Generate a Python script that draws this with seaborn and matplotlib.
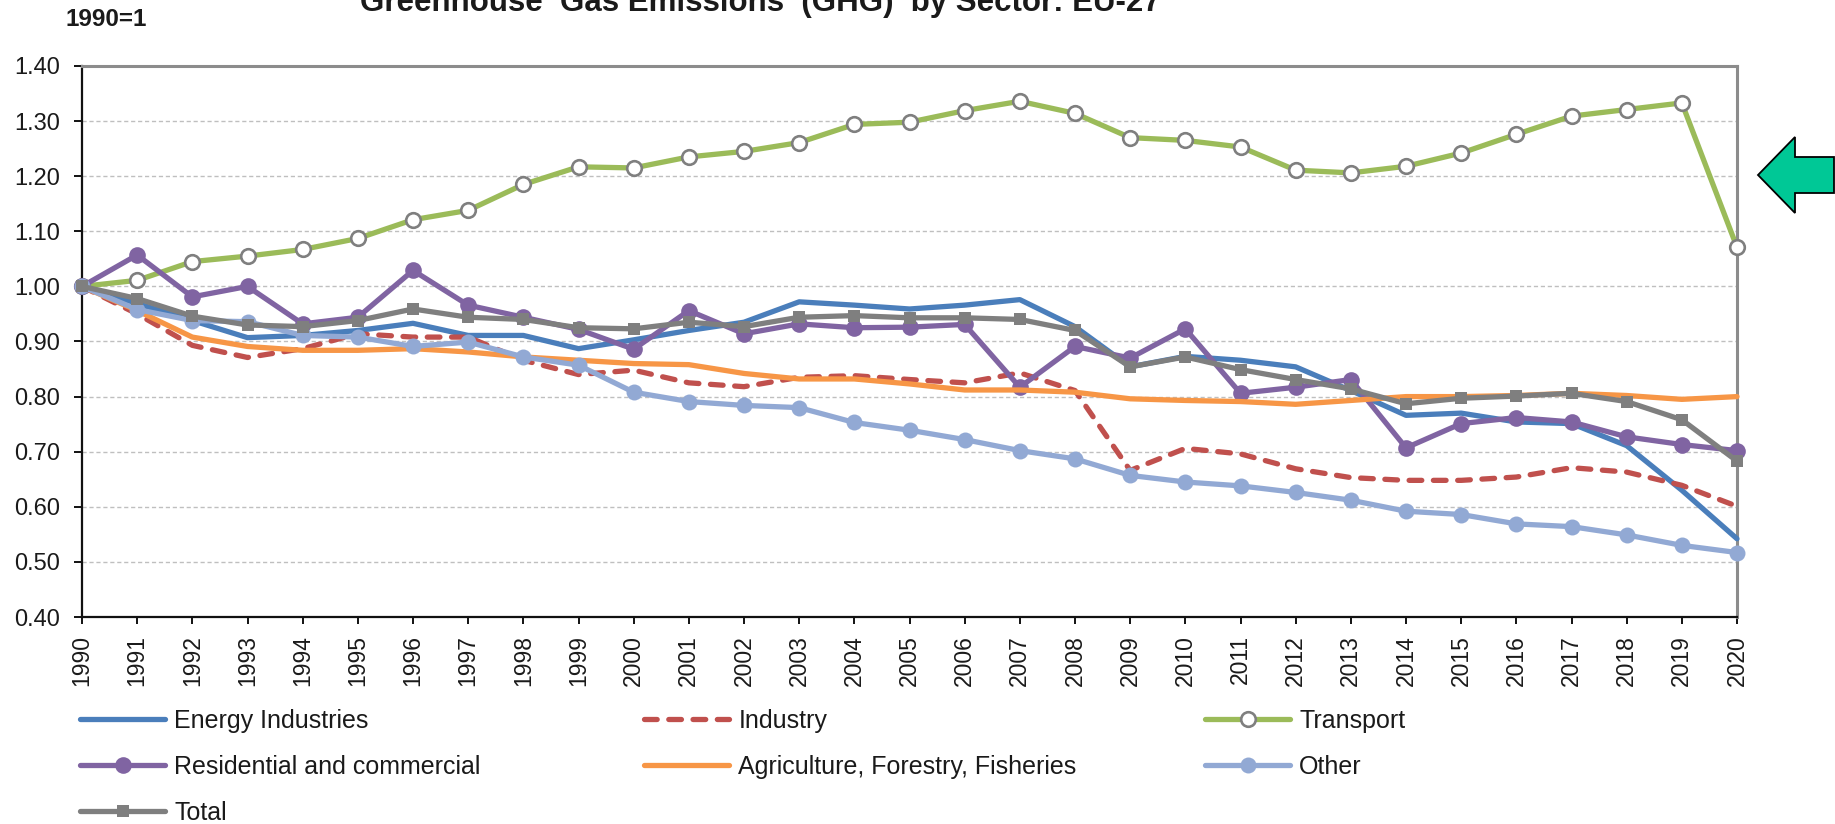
import matplotlib
matplotlib.use("Agg")
import matplotlib.pyplot as plt
from matplotlib.patches import Polygon
from matplotlib.ticker import MultipleLocator, FormatStrFormatter
import seaborn as sns
import pandas as pd

# Index of greenhouse gas emissions by sector, EU-27 (1990 = 1)
years = list(range(1990, 2021))

energy = [1.000, 0.969, 0.938, 0.907, 0.911, 0.920, 0.933, 0.911, 0.911, 0.887,
          0.903, 0.920, 0.935, 0.972, 0.966, 0.959, 0.966, 0.976, 0.927, 0.854,
          0.873, 0.866, 0.854, 0.811, 0.766, 0.770, 0.754, 0.751, 0.711, 0.630,
          0.542]
industry = [1.000, 0.950, 0.893, 0.871, 0.887, 0.914, 0.908, 0.908, 0.866, 0.840,
            0.848, 0.825, 0.818, 0.835, 0.838, 0.831, 0.825, 0.843, 0.811, 0.666,
            0.706, 0.696, 0.669, 0.653, 0.648, 0.648, 0.654, 0.671, 0.663, 0.639,
            0.601]
transport = [1.000, 1.011, 1.045, 1.055, 1.067, 1.087, 1.121, 1.138, 1.185, 1.217,
             1.215, 1.235, 1.245, 1.261, 1.294, 1.298, 1.319, 1.336, 1.314, 1.270,
             1.265, 1.253, 1.211, 1.206, 1.218, 1.242, 1.276, 1.309, 1.321, 1.333,
             1.071]
residential = [1.000, 1.057, 0.981, 1.000, 0.932, 0.944, 1.029, 0.966, 0.944, 0.922,
               0.886, 0.956, 0.914, 0.932, 0.925, 0.926, 0.931, 0.817, 0.891, 0.870,
               0.923, 0.806, 0.817, 0.831, 0.707, 0.751, 0.762, 0.754, 0.727, 0.713,
               0.702]
agriculture = [1.000, 0.956, 0.908, 0.891, 0.884, 0.884, 0.887, 0.881, 0.872, 0.866,
               0.860, 0.858, 0.842, 0.832, 0.832, 0.823, 0.812, 0.812, 0.808, 0.796,
               0.793, 0.791, 0.786, 0.793, 0.800, 0.800, 0.802, 0.806, 0.802, 0.795,
               0.800]
other = [1.000, 0.958, 0.938, 0.936, 0.911, 0.908, 0.891, 0.899, 0.872, 0.857,
         0.808, 0.791, 0.784, 0.780, 0.753, 0.739, 0.722, 0.702, 0.687, 0.657,
         0.645, 0.638, 0.626, 0.612, 0.592, 0.586, 0.569, 0.564, 0.549, 0.530,
         0.517]
total = [1.000, 0.978, 0.946, 0.930, 0.927, 0.938, 0.959, 0.944, 0.940, 0.925,
         0.923, 0.935, 0.927, 0.944, 0.947, 0.943, 0.943, 0.940, 0.920, 0.854,
         0.872, 0.849, 0.831, 0.814, 0.787, 0.797, 0.801, 0.806, 0.791, 0.758,
         0.683]

sector_names = ["Energy Industries", "Industry", "Transport",
                "Residential and commercial", "Agriculture, Forestry, Fisheries",
                "Other", "Total"]
sector_values = [energy, industry, transport, residential, agriculture, other, total]

sns.set_style("white")
plt.rcParams["font.family"] = ["Liberation Sans", "DejaVu Sans"]
plt.rcParams["text.color"] = "#1a1a1a"

# line styling per sector
styles = {
    "Energy Industries": dict(color="#4A7EBB", marker=None),
    "Industry": dict(color="#C0504D", marker=None, dashes=(2.4, 2.2),
                     dash_capstyle="round"),
    "Transport": dict(color="#9BBB59", marker="o", markersize=10.5,
                      markerfacecolor="white", markeredgecolor="#7F7F7F",
                      markeredgewidth=1.9),
    "Residential and commercial": dict(color="#8064A2", marker="o", markersize=12,
                                       markeredgewidth=0),
    "Agriculture, Forestry, Fisheries": dict(color="#F79646", marker=None),
    "Other": dict(color="#92A9D4", marker="o", markersize=11.5, markeredgewidth=0),
    "Total": dict(color="#7F7F7F", marker="s", markersize=8.5, markeredgewidth=0),
}

W, H = 1835, 824
fig = plt.figure(figsize=(W / 100, H / 100), dpi=100)
ax = fig.add_axes([82 / W, 1 - 617 / H, (1737 - 82) / W, (617 - 66) / H])

handles = {}
for i, (name, vals) in enumerate(zip(sector_names, sector_values)):
    df = pd.DataFrame({"year": years, "value": vals})
    st = dict(styles[name])
    sns.lineplot(data=df, x="year", y="value", ax=ax, linewidth=3.8,
                 label=name, zorder=3 + i, legend=False, clip_on=False, **st)
    handles[name] = ax.get_lines()[-1]

ax.set_xlim(1990, 2020)
ax.set_ylim(0.40, 1.40)
ax.xaxis.set_major_locator(MultipleLocator(1))
ax.yaxis.set_major_locator(MultipleLocator(0.1))
ax.yaxis.set_major_formatter(FormatStrFormatter("%.2f"))
ax.set_xlabel("")
ax.set_ylabel("")

ax.grid(axis="y", color="#BFBFBF", linestyle=(0, (3, 2)), linewidth=1.0, zorder=0)
ax.grid(axis="x", visible=False)

for side in ("left", "bottom"):
    ax.spines[side].set_color("#111111")
    ax.spines[side].set_linewidth(1.6)
for side in ("top", "right"):
    ax.spines[side].set_color("#8C8C8C")
    ax.spines[side].set_linewidth(2.2)
for sp in ax.spines.values():
    sp.set_zorder(2)

ax.tick_params(axis="y", direction="out", length=6, width=1.4, color="#111111",
               pad=10, labelsize=17, labelcolor="#1a1a1a", left=True)
ax.tick_params(axis="x", direction="out", length=5, width=1.4, color="#111111",
               pad=8, labelsize=16.5, labelcolor="#1a1a1a", bottom=True,
               labelrotation=90)

# headings
fig.text(760 / W, 1 - 11 / H, "Greenhouse  Gas Emissions  (GHG)  by Sector: EU-27",
         ha="center", va="baseline", fontsize=22.5, fontweight="bold")
fig.text(65 / W, 1 - 19 / H, "1990=1", ha="left", va="center",
         fontsize=17.5, fontweight="bold")

# legend laid out in three columns
columns = [
    (80, ["Energy Industries", "Residential and commercial", "Total"]),
    (644, ["Industry", "Agriculture, Forestry, Fisheries"]),
    (1205, ["Transport", "Other"]),
]
for x0, names in columns:
    fig.legend([handles[n] for n in names], names, loc="upper left",
               bbox_to_anchor=(x0 / W, 1 - 709 / H), bbox_transform=fig.transFigure,
               frameon=False, borderpad=0, borderaxespad=0, fontsize=18,
               handlelength=3.4, handletextpad=0.37, labelspacing=0.88)

# pointer arrow on the right margin
arrow_px = [(1758, 175), (1795, 137), (1795, 157), (1834, 157),
            (1834, 193), (1795, 193), (1795, 213)]
arrow = Polygon([(x / W, 1 - y / H) for x, y in arrow_px], closed=True,
                transform=fig.transFigure, facecolor="#00C896",
                edgecolor="black", linewidth=1.3)
fig.patches.append(arrow)

fig.savefig("out.png", dpi=100, facecolor="white")
